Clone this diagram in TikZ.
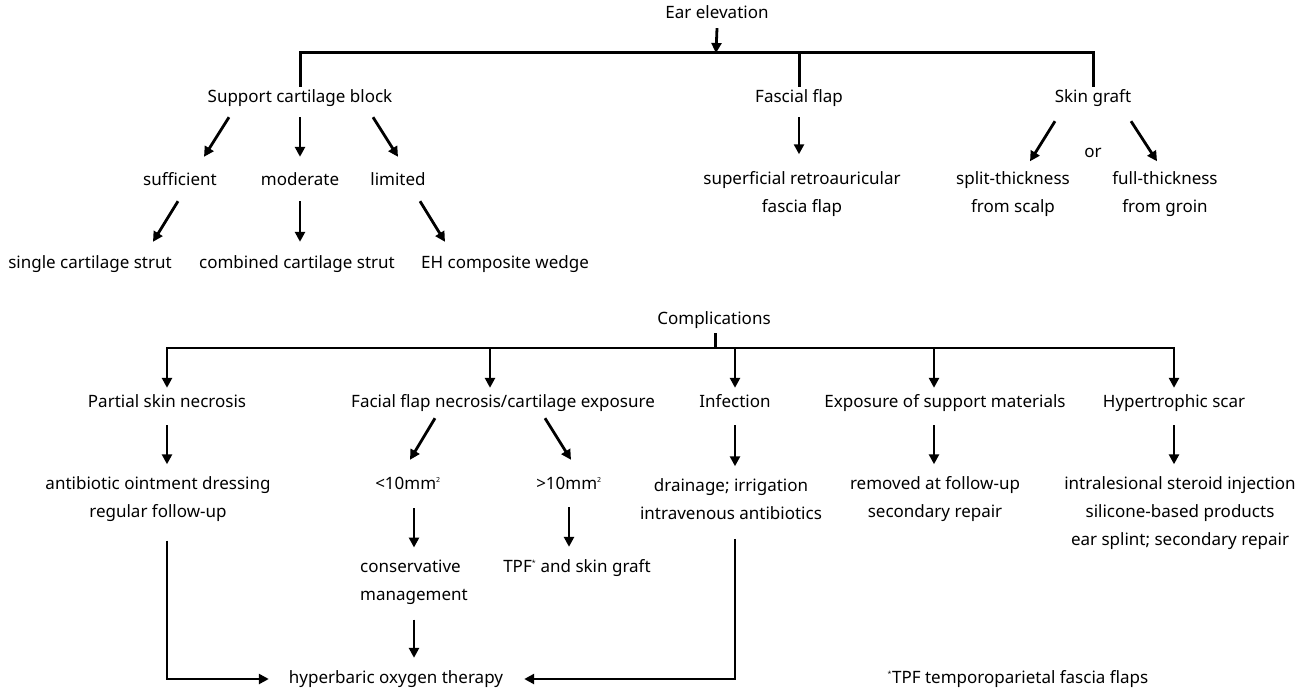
\documentclass[tikz,border=0pt]{standalone}
\usepackage{fontspec}
\setmainfont{Noto Sans}
\usetikzlibrary{arrows.meta}
\newcommand{\sups}[1]{\textsuperscript{\fontsize{7}{7}\selectfont #1}}

\begin{document}
\begin{tikzpicture}[x=1pt, y=-1pt,
    txt/.style={inner sep=0pt, text height=12pt, text depth=4pt, font=\fontsize{17}{28}\selectfont},
    txtlines/.style={inner sep=0pt, align=center, font=\fontsize{17}{28}\selectfont},
    bar/.style={line width=3pt},
    flow/.style={line width=2.8pt, -{Triangle[length=10pt, width=10pt]}}]
    \useasboundingbox (0,0) rectangle (1316,693);

    \node [txt] (ear) at (717,15) {Ear elevation};
    \coordinate (ebar) at (716,53);
    \node [txt] (scb) at (300,98) {Support cartilage block};
    \node [txt] (ffl) at (799,98) {Fascial flap};
    \node [txt] (skg) at (1093,98) {Skin graft};
    \node [txt] (suff) at (180,181) {sufficient};
    \node [txt] (mod) at (300,181) {moderate};
    \node [txt] (lim) at (398,181) {limited};
    \node [txt] (single) at (90,264) {single cartilage strut};
    \node [txt] (comb) at (297,264) {combined cartilage strut};
    \node [txt] (ehw) at (505,264) {EH composite wedge};
    \node [txtlines] (sra) at (802,194.5) {superficial retroauricular\\fascia flap};
    \node [txt] (or) at (1093,153) {or};
    \node [txtlines] (split) at (1013,194.5) {split-thickness\\from scalp};
    \node [txtlines] (full) at (1165,194.5) {full-thickness\\from groin};

    \draw [flow] ([shift={(0,5)}]ear.south) -- (ebar);
    \draw [bar] ([shift={(0,-3)}]scb.north) |- (ebar) -| ([shift={(0,-3)}]skg.north);
    \draw [bar] ([shift={(0,-3)}]ffl.north) -- (ffl.north |- ebar);
    \draw [flow] ([shift={(-71,11)}]scb.south) -- ([shift={(24,-16)}]suff.north);
    \draw [flow] ([shift={(0,11)}]scb.south) -- ([shift={(0,-16)}]mod.north);
    \draw [flow] ([shift={(73,11)}]scb.south) -- ([shift={(0,-16)}]lim.north);
    \draw [flow] ([shift={(-2,12)}]suff.south) -- ([shift={(63,-14)}]single.north);
    \draw [flow] ([shift={(0,12)}]mod.south) -- ([shift={(3,-14)}]comb.north);
    \draw [flow] ([shift={(22,12)}]lim.south) -- ([shift={(-60,-14)}]ehw.north);
    \draw [flow] ([shift={(0,11)}]ffl.south) -- ([shift={(-3,-17.5)}]sra.north);
    \draw [flow] ([shift={(-38,15)}]skg.south) -- ([shift={(17,-10.5)}]split.north);
    \draw [flow] ([shift={(38,15)}]skg.south) -- ([shift={(-8,-10.5)}]full.north);

    \node [txt] (comp) at (714,320) {Complications};
    \coordinate (cbar) at (715,348);
    \node [txt] (psn) at (167,403) {Partial skin necrosis};
    \node [txt] (ffn) at (503,403) {Facial flap necrosis/cartilage exposure};
    \node [txt] (inf) at (735,403) {Infection};
    \node [txt] (esm) at (945,403) {Exposure of support materials};
    \node [txt] (hsc) at (1174,403) {Hypertrophic scar};
    \node [txtlines] (aod) at (158,499) {antibiotic ointment dressing\\regular follow-up};
    \node [txt] (lt) at (408,485) {<10mm\sups{2}};
    \node [txt] (gt) at (569,485) {>10mm\sups{2}};
    \node [txtlines] (drn) at (731,499) {drainage; irrigation\\intravenous antibiotics};
    \node [txtlines] (rem) at (935,499) {removed at follow-up\\secondary repair};
    \node [txtlines] (isi) at (1180,513) {intralesional steroid injection\\silicone-based products\\ear splint; secondary repair};
    \node [txtlines, align=left, anchor=west] (cm) at (360,582) {conservative\\management};
    \node [txt] (tpf) at (577,568) {TPF\sups{*} and skin graft};
    \node [txt] (hot) at (396,679) {hyperbaric oxygen therapy};
    \node [txt] (note) at (1018,679) {\sups{*}TPF temporoparietal fascia flaps};

    \draw [bar] ([shift={(1,5)}]comp.south) -- (cbar);
    \draw [flow] (cbar) -| ([shift={(0,-7)}]psn.north);
    \draw [flow] (cbar) -| ([shift={(0,-7)}]hsc.north);
    \draw [flow] ([shift={(-13,0)}]ffn.north |- cbar) -- ([shift={(-13,-7)}]ffn.north);
    \draw [flow] (inf.north |- cbar) -- ([shift={(0,-7)}]inf.north);
    \draw [flow] ([shift={(-11,0)}]esm.north |- cbar) -- ([shift={(-11,-7)}]esm.north);
    \draw [flow] ([shift={(0,14)}]psn.south) -- ([shift={(0,-12)}]psn.south |- aod.north);
    \draw [flow] ([shift={(0,14)}]inf.south) -- ([shift={(0,-12)}]inf.south |- drn.north);
    \draw [flow] ([shift={(-11,14)}]esm.south) -- ([shift={(-11,-12)}]esm.south |- rem.north);
    \draw [flow] ([shift={(0,14)}]hsc.south) -- ([shift={(0,-12)}]hsc.south |- isi.north);
    \draw [flow] ([shift={(-68,7)}]ffn.south) -- ([shift={(2,-17)}]lt.north);
    \draw [flow] ([shift={(42,7)}]ffn.south) -- ([shift={(2,-17)}]gt.north);
    \draw [flow] ([shift={(6,15)}]lt.south) -- ([shift={(6,-12)}]lt.south |- cm.north);
    \draw [flow] ([shift={(0,14)}]gt.south) -- ([shift={(0,-13)}]gt.south |- tpf.north);
    \draw [flow] ([shift={(6,15)}]lt.south |- cm.south) -- ([shift={(6,-13)}]lt.south |- hot.north);
    \draw [flow] ([shift={(0,19)}]psn.south |- aod.south) |- ([shift={(-20,0)}]hot.west);
    \draw [flow] ([shift={(0,19)}]inf.south |- drn.south) |- ([shift={(21,0)}]hot.east);
\end{tikzpicture}
\end{document}
